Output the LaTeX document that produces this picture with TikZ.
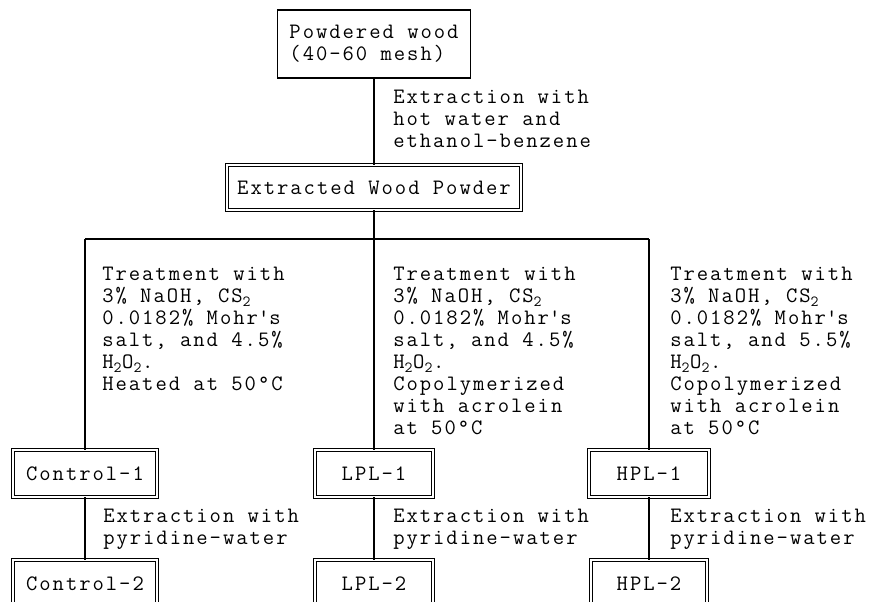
\documentclass[tikz,border=0pt]{standalone}
\usepackage{fontspec}
\setmonofont{Latin Modern Mono}[LetterSpace=9]
\tikzset{
  box/.style={draw, line width=1pt, inner sep=0pt, align=left},
  dbox/.style={draw, double, double distance=1.6pt, line width=0.8pt, inner sep=0pt, minimum height=35pt},
  note/.style={anchor=north west, inner sep=0pt, align=left},
  link/.style={line width=1pt},
}

\begin{document}
\begin{tikzpicture}[x=0.75pt, y=-0.75pt, font=\ttfamily\fontsize{16.5}{16.5}\selectfont]
        \useasboundingbox (0,0) rectangle (869,601);
        \clip (0,0) rectangle (869,601);

        % Nodes
        \node[box, minimum width=144.75pt, minimum height=51pt] at (374, 44) (wood) {Powdered wood\\(40-60 mesh)};
        \node[dbox, minimum width=221pt, minimum height=33.5pt] at (374, 187.5) (ewp) {Extracted Wood Powder};

        \coordinate (split) at (374, 239);
        \coordinate (lft) at (85, 239);
        \coordinate (rgt) at (649, 239);

        \node[dbox, minimum width=107.8pt] at (85, 473.5) (ctrlA) {Control-1};
        \node[dbox, minimum width=89pt] at (374, 473.5) (lplA) {LPL-1};
        \node[dbox, minimum width=89.8pt] at (649, 473.5) (hplA) {HPL-1};

        \node[dbox, minimum width=107.8pt] at (85, 583.5) (ctrlB) {Control-2};
        \node[dbox, minimum width=89pt] at (374, 583.5) (lplB) {LPL-2};
        \node[dbox, minimum width=86.8pt] at (649, 583.5) (hplB) {HPL-2};

        % Labels
        \node[note] at (393, 90) (extr) {Extraction with\\hot water and\\ethanol-benzene};
        \node[note] at (102, 267) (trtA) {Treatment with\\3\% NaOH, CS\textsubscript{2}\\0.0182\% Mohr\textquotesingle s\\salt, and 4.5\%\\H\textsubscript{2}O\textsubscript{2}.\\Heated at 50°C};
        \node[note] at (393, 267) (trtB) {Treatment with\\3\% NaOH, CS\textsubscript{2}\\0.0182\% Mohr\textquotesingle s\\salt, and 4.5\%\\H\textsubscript{2}O\textsubscript{2}.\\Copolymerized\\with acrolein\\at 50°C};
        \node[note] at (670, 267) (trtC) {Treatment with\\3\% NaOH, CS\textsubscript{2}\\0.0182\% Mohr\textquotesingle s\\salt, and 5.5\%\\H\textsubscript{2}O\textsubscript{2}.\\Copolymerized\\with acrolein\\at 50°C};
        \node[note] at (103, 509) (pyrA) {Extraction with\\pyridine-water};
        \node[note] at (393, 509) (pyrB) {Extraction with\\pyridine-water};
        \node[note] at (670, 509) (pyrC) {Extraction with\\pyridine-water};

        \draw[link] (wood) -- (ewp);
        \draw[link] (ewp) -- (split);
        \draw[link] (lft) -- (rgt);
        \draw[link] (lft) -- (ctrlA);
        \draw[link] (split) -- (lplA);
        \draw[link] (rgt) -- (hplA);
        \draw[link] (ctrlA) -- (ctrlB);
        \draw[link] (lplA) -- (lplB);
        \draw[link] (hplA) -- (hplB);

    \end{tikzpicture}
\end{document}
